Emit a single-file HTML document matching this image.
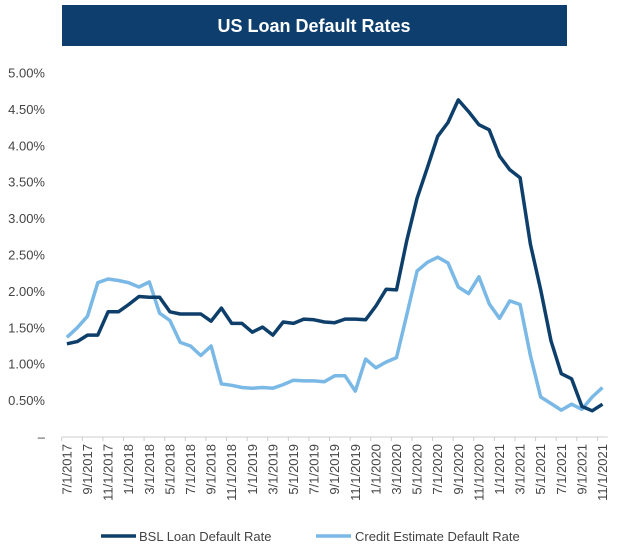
<!DOCTYPE html>
<html><head><meta charset="utf-8"><style>
body{margin:0;background:#fff;width:629px;height:551px;overflow:hidden;font-family:"Liberation Sans",sans-serif}
</style></head><body>
<svg width="629" height="551" xmlns="http://www.w3.org/2000/svg">
<rect x="62" y="5" width="505" height="41" fill="#0d3e6e"/>
<text x="314" y="32" text-anchor="middle" fill="#fff" font-size="18" font-weight="bold">US Loan Default Rates</text>
<g id="yaxis"></g>
<g id="xaxis"></g>
<g id="series"></g>
<g>
<line x1="101" y1="536" x2="136" y2="536" stroke="#0e3f6b" stroke-width="3.5"/>
<text x="139" y="541" font-size="13" fill="#444">BSL Loan Default Rate</text>
<line x1="316" y1="536" x2="351" y2="536" stroke="#7ab8e6" stroke-width="3.5"/>
<text x="355" y="541" font-size="13" fill="#444">Credit Estimate Default Rate</text>
</g>
</svg>
<script>
const yTicks=[0,0.5,1,1.5,2,2.5,3,3.5,4,4.5,5];
const bsl=[1.28,1.31,1.40,1.40,1.72,1.72,
1.82,1.93,1.92,1.92,1.72,1.69,1.69,1.69,1.59,1.77,1.56,1.56,
1.44,1.51,1.40,1.58,1.56,1.62,1.61,1.58,1.57,1.62,1.62,1.61,
1.80,2.03,2.02,2.70,3.28,3.70,4.13,4.32,4.63,4.47,4.29,4.22,
3.86,3.67,3.56,2.65,2.02,1.32,0.87,0.80,0.42,0.36,0.45];
const creditEst=[1.37,1.50,1.66,2.12,2.17,2.15,
2.12,2.06,2.13,1.70,1.60,1.30,1.25,1.12,1.25,0.73,0.71,0.68,
0.67,0.68,0.67,0.72,0.78,0.77,0.77,0.76,0.84,0.84,0.63,1.07,
0.95,1.03,1.09,1.68,2.28,2.40,2.47,2.39,2.06,1.97,2.20,1.83,
1.63,1.87,1.82,1.12,0.55,0.46,0.37,0.45,0.38,0.55,0.68];
const startYear=2017, startMonth=7;
const categories=[];
for(let i=0;i<bsl.length;i++){const m=(startMonth-1+i)%12+1;const y=startYear+Math.floor((startMonth-1+i)/12);categories.push(m+'/1/'+y);}
const NS='http://www.w3.org/2000/svg';
const x0=61.7,x1=607.7,yBase=437,yTop=73,yMax=5;
const bw=(x1-x0)/categories.length;
const X=i=>x0+bw*(i+0.5);
const Y=v=>yBase-(v/yMax)*(yBase-yTop);
function mk(tag,attrs,parent){const e=document.createElementNS(NS,tag);for(const k in attrs)e.setAttribute(k,attrs[k]);parent.appendChild(e);return e;}
const ya=document.getElementById('yaxis');
yTicks.forEach(t=>{const e=mk('text',{x:45,y:Y(t)+4.5,'text-anchor':'end','font-size':'13',fill:'#444'},ya);


e.textContent=t===0?'–':t.toFixed(2)+'%';});
const xa=document.getElementById('xaxis');
const ax=mk('line',{x1:x0,y1:yBase,x2:x1,y2:yBase,stroke:'#ccc','stroke-width':1},xa);


categories.forEach((c,i)=>{
 if(i%2===0){const tk=mk('line',{x1:x0+bw*i,y1:yBase,x2:x0+bw*i,y2:yBase+4,stroke:'#ccc'},xa);
 
 
 const tx=X(i)+4.5,ty=yBase+7;
 const e=mk('text',{x:tx,y:ty,'text-anchor':'end','font-size':'13',fill:'#444',transform:`rotate(-90 ${tx} ${ty})`},xa);
 
 
 e.textContent=c;}
});
const sg=document.getElementById('series');
function line(data,color,name){const p=mk('polyline',{points:data.map((v,i)=>X(i).toFixed(1)+','+Y(v).toFixed(1)).join(' '),fill:'none',stroke:color,'stroke-width':3.5,'stroke-linejoin':'round'},sg);

}
line(creditEst,'#7ab8e6','credit-estimate-line');
line(bsl,'#0e3f6b','bsl-line');
</script>
</body></html>
